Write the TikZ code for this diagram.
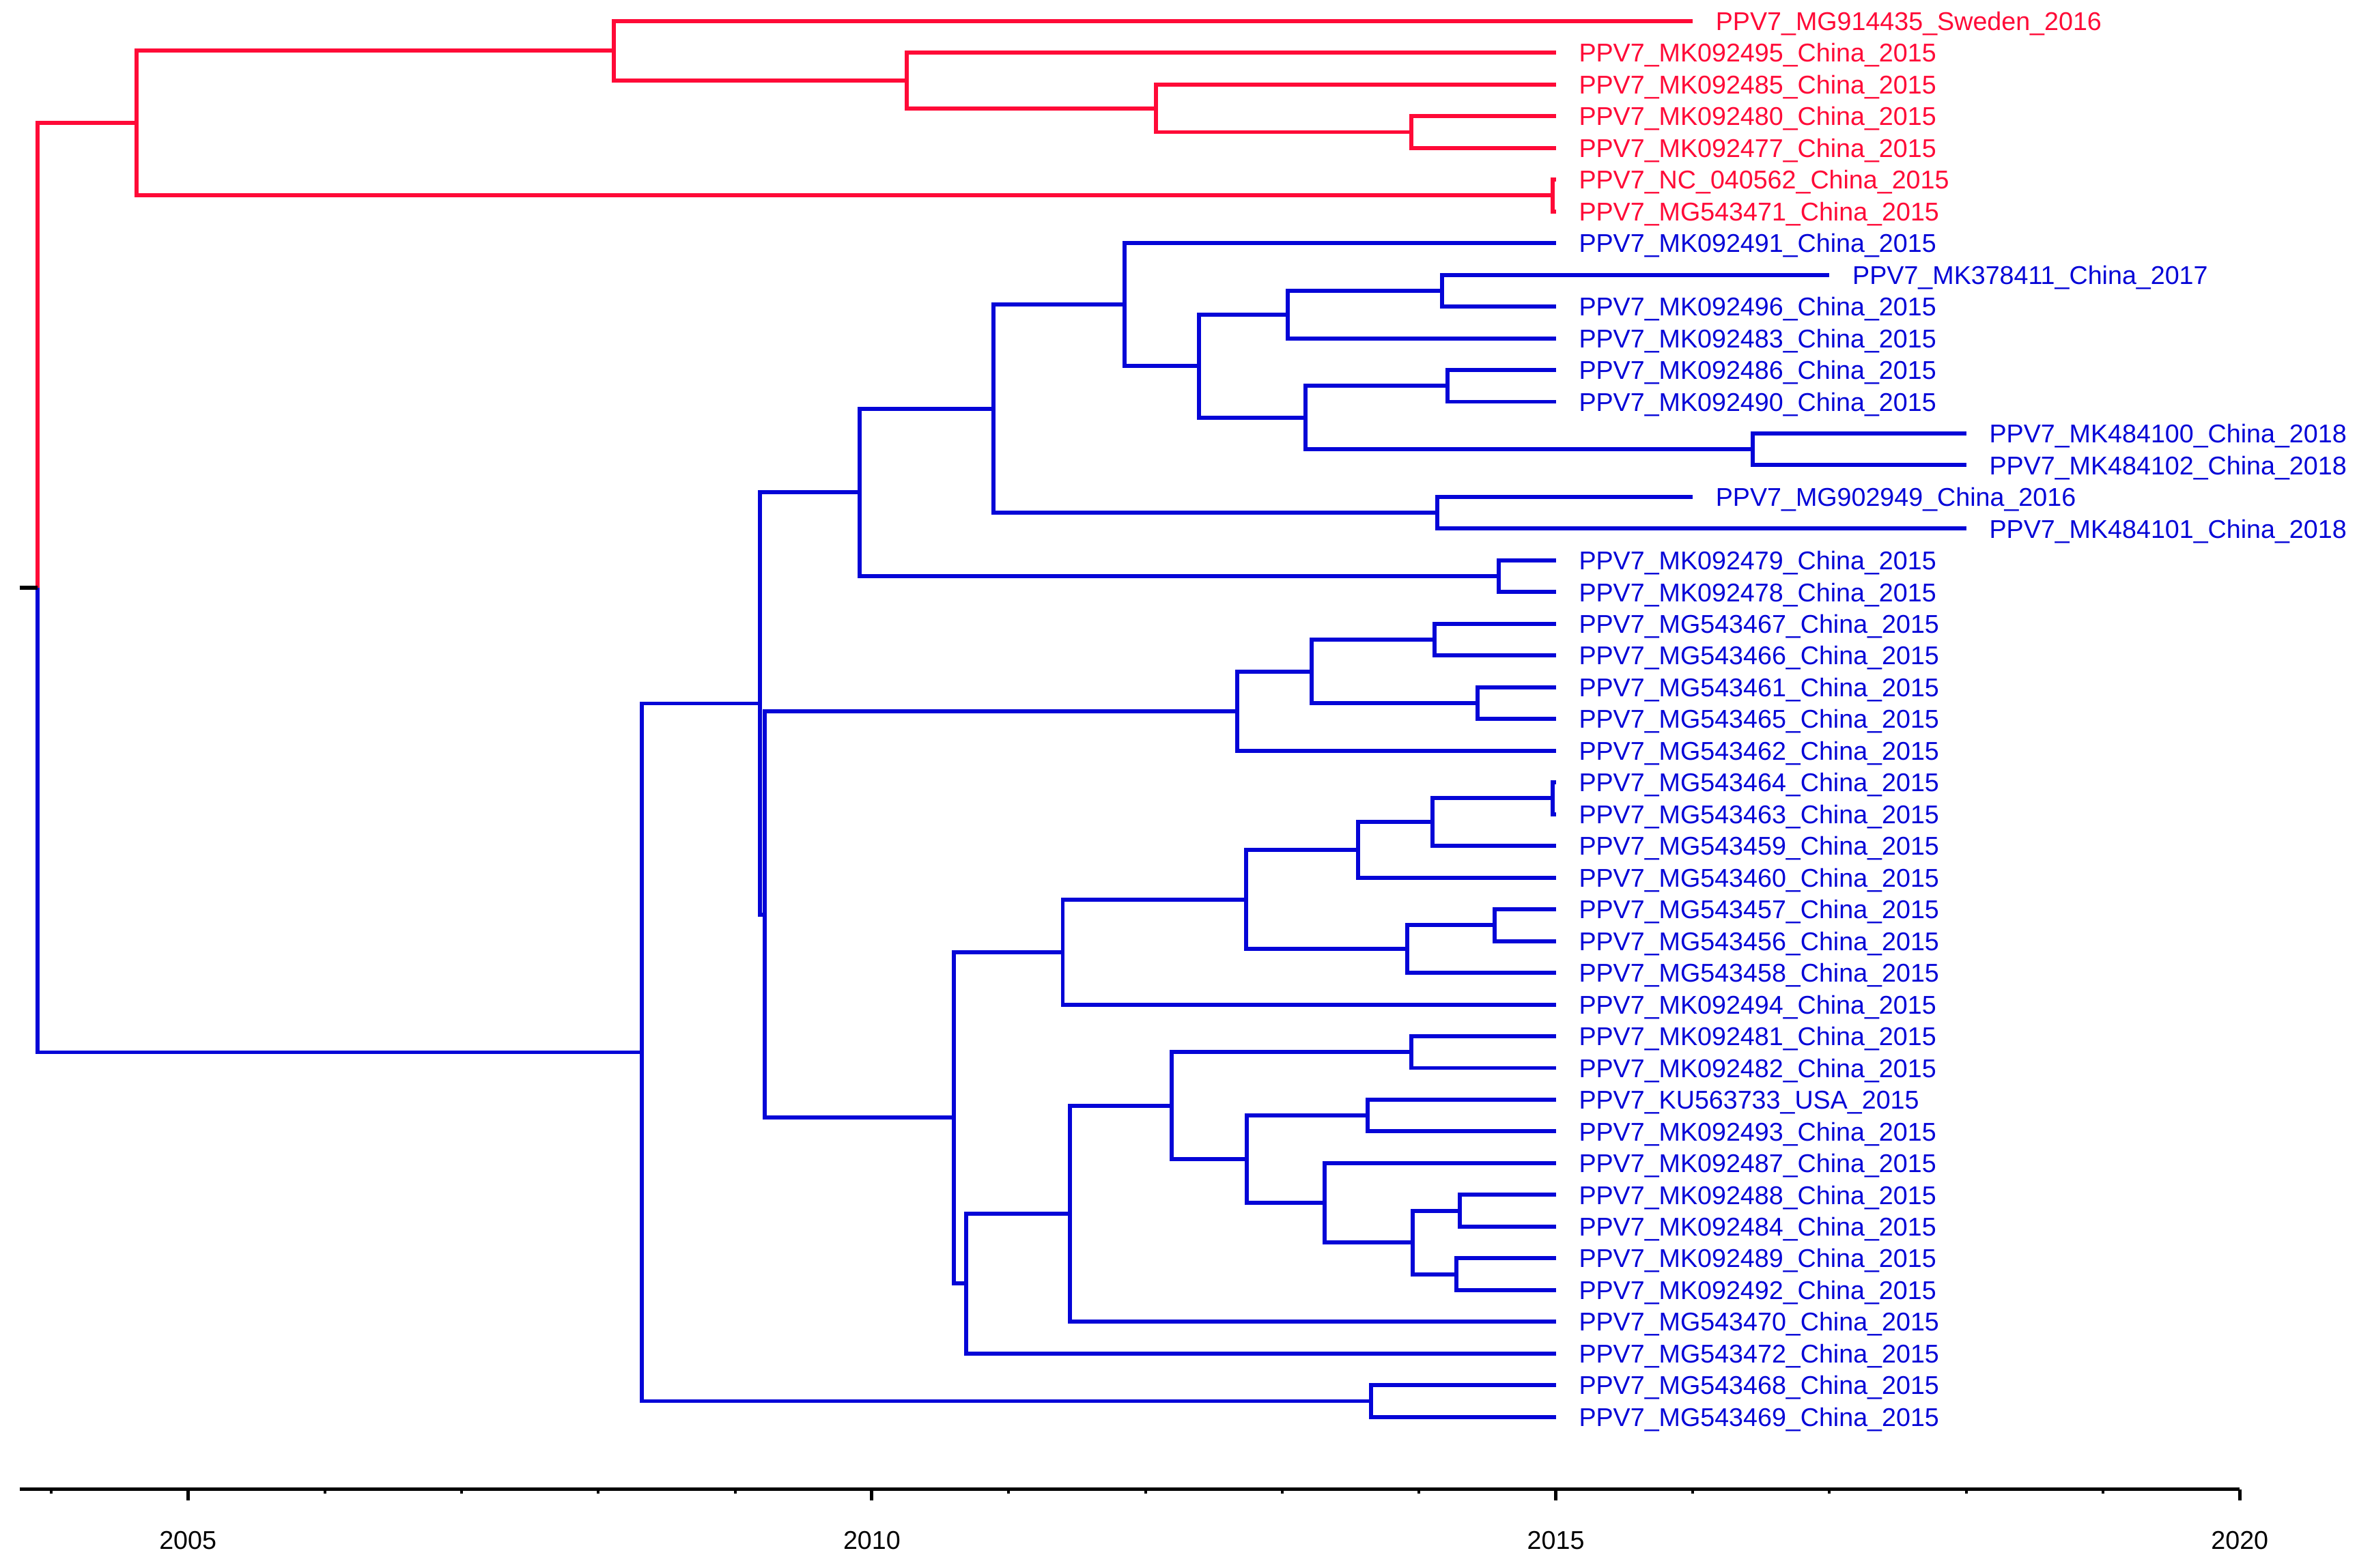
\documentclass[tikz,border=0pt]{standalone}
\usepackage{fontspec}
\setmainfont{Liberation Sans}
\definecolor{tred}{RGB}{255,10,55}
\definecolor{tblue}{RGB}{5,5,215}
\newcommand\mkleaf[4]{%
  \coordinate (l#1) at (#2,{14+21.11*#1});
  \node[lab,text=#3] (t#1) at ({#2+15},{20.2+21.11*#1}) {#4};
}
\begin{document}
\begin{tikzpicture}[x={(0.5pt,0)}, y={(0,-0.5pt)},
  br/.style={line width=1.35pt},
  rb/.style={br, draw=tred},
  bb/.style={br, draw=tblue},
  lab/.style={font=\fontsize{8.55}{10}\selectfont, inner sep=0pt, anchor=base west},
  axlab/.style={font=\fontsize{8.55}{10}\selectfont, inner sep=0pt, anchor=base, text=black},
  axisline/.style={line width=1.1pt, draw=black},
]
\useasboundingbox (0,0) rectangle (1568,1043);

% ---- leaves ----
\mkleaf{0}{1126}{tred}{PPV7\_MG914435\_Sweden\_2016}
\mkleaf{1}{1035}{tred}{PPV7\_MK092495\_China\_2015}
\mkleaf{2}{1035}{tred}{PPV7\_MK092485\_China\_2015}
\mkleaf{3}{1035}{tred}{PPV7\_MK092480\_China\_2015}
\mkleaf{4}{1035}{tred}{PPV7\_MK092477\_China\_2015}
\mkleaf{5}{1035}{tred}{PPV7\_NC\_040562\_China\_2015}
\mkleaf{6}{1035}{tred}{PPV7\_MG543471\_China\_2015}
\mkleaf{7}{1035}{tblue}{PPV7\_MK092491\_China\_2015}
\mkleaf{8}{1217}{tblue}{PPV7\_MK378411\_China\_2017}
\mkleaf{9}{1035}{tblue}{PPV7\_MK092496\_China\_2015}
\mkleaf{10}{1035}{tblue}{PPV7\_MK092483\_China\_2015}
\mkleaf{11}{1035}{tblue}{PPV7\_MK092486\_China\_2015}
\mkleaf{12}{1035}{tblue}{PPV7\_MK092490\_China\_2015}
\mkleaf{13}{1308}{tblue}{PPV7\_MK484100\_China\_2018}
\mkleaf{14}{1308}{tblue}{PPV7\_MK484102\_China\_2018}
\mkleaf{15}{1126}{tblue}{PPV7\_MG902949\_China\_2016}
\mkleaf{16}{1308}{tblue}{PPV7\_MK484101\_China\_2018}
\mkleaf{17}{1035}{tblue}{PPV7\_MK092479\_China\_2015}
\mkleaf{18}{1035}{tblue}{PPV7\_MK092478\_China\_2015}
\mkleaf{19}{1035}{tblue}{PPV7\_MG543467\_China\_2015}
\mkleaf{20}{1035}{tblue}{PPV7\_MG543466\_China\_2015}
\mkleaf{21}{1035}{tblue}{PPV7\_MG543461\_China\_2015}
\mkleaf{22}{1035}{tblue}{PPV7\_MG543465\_China\_2015}
\mkleaf{23}{1035}{tblue}{PPV7\_MG543462\_China\_2015}
\mkleaf{24}{1035}{tblue}{PPV7\_MG543464\_China\_2015}
\mkleaf{25}{1035}{tblue}{PPV7\_MG543463\_China\_2015}
\mkleaf{26}{1035}{tblue}{PPV7\_MG543459\_China\_2015}
\mkleaf{27}{1035}{tblue}{PPV7\_MG543460\_China\_2015}
\mkleaf{28}{1035}{tblue}{PPV7\_MG543457\_China\_2015}
\mkleaf{29}{1035}{tblue}{PPV7\_MG543456\_China\_2015}
\mkleaf{30}{1035}{tblue}{PPV7\_MG543458\_China\_2015}
\mkleaf{31}{1035}{tblue}{PPV7\_MK092494\_China\_2015}
\mkleaf{32}{1035}{tblue}{PPV7\_MK092481\_China\_2015}
\mkleaf{33}{1035}{tblue}{PPV7\_MK092482\_China\_2015}
\mkleaf{34}{1035}{tblue}{PPV7\_KU563733\_USA\_2015}
\mkleaf{35}{1035}{tblue}{PPV7\_MK092493\_China\_2015}
\mkleaf{36}{1035}{tblue}{PPV7\_MK092487\_China\_2015}
\mkleaf{37}{1035}{tblue}{PPV7\_MK092488\_China\_2015}
\mkleaf{38}{1035}{tblue}{PPV7\_MK092484\_China\_2015}
\mkleaf{39}{1035}{tblue}{PPV7\_MK092489\_China\_2015}
\mkleaf{40}{1035}{tblue}{PPV7\_MK092492\_China\_2015}
\mkleaf{41}{1035}{tblue}{PPV7\_MG543470\_China\_2015}
\mkleaf{42}{1035}{tblue}{PPV7\_MG543472\_China\_2015}
\mkleaf{43}{1035}{tblue}{PPV7\_MG543468\_China\_2015}
\mkleaf{44}{1035}{tblue}{PPV7\_MG543469\_China\_2015}

% ---- internal nodes ----
\coordinate (root) at (25,391.06);
\coordinate (rtick) at (13,391.06);
% red clade
\coordinate (r0) at (91,81.95);
\coordinate (r1) at (408.5,33.79);
\coordinate (r2) at (603,53.58);
\coordinate (r3) at (769,72.05);
\coordinate (r4) at (939,87.885);
\coordinate (r5) at (1033,130.105);
% blue clade
\coordinate (n427) at (427,700.18);
\coordinate (n505) at (505.5,468.07);
\coordinate (n912) at (912,932.285);
\coordinate (n572) at (572,327.68);
\coordinate (n661) at (661,271.94);
\coordinate (n748) at (748.3,202.67);
\coordinate (n797) at (797.5,243.57);
\coordinate (n856) at (856.5,209.27);
\coordinate (n959) at (959.5,193.435);
\coordinate (n869) at (868.5,277.875);
\coordinate (n963) at (963,256.765);
\coordinate (n1166) at (1166,298.985);
\coordinate (n956) at (956,341.205);
\coordinate (n997) at (997,383.425);
\coordinate (n509) at (508.8,608.46);
\coordinate (n822) at (823,473.14);
\coordinate (n873) at (872.5,446.755);
\coordinate (n954) at (954.5,425.645);
\coordinate (n983) at (983,467.865);
\coordinate (n634) at (634.5,743.78);
\coordinate (n707) at (707,633.45);
\coordinate (n829) at (829,598.485);
\coordinate (n904) at (903.5,565.50);
\coordinate (n953) at (953,547.03);
\coordinate (n1033) at (1033,531.195);
\coordinate (n935) at (936,631.47);
\coordinate (n994) at (994.2,615.635);
\coordinate (n643) at (642.8,854.11);
\coordinate (n711) at (711.8,807.60);
\coordinate (n779) at (779.6,735.70);
\coordinate (n939) at (938.8,700.075);
\coordinate (n829b) at (829.2,771.32);
\coordinate (n910) at (910,742.295);
\coordinate (n880) at (881,800.35);
\coordinate (n939b) at (940,826.735);
\coordinate (n971) at (971.2,805.625);
\coordinate (n968) at (969,847.845);

% ---- red branches ----
\draw[rb] (root) |- (r0);
\draw[rb] (r0) |- (r1);  \draw[rb] (r0) |- (r5);
\draw[rb] (r1) |- (l0);  \draw[rb] (r1) |- (r2);
\draw[rb] (r2) |- (l1);  \draw[rb] (r2) |- (r3);
\draw[rb] (r3) |- (l2);  \draw[rb] (r3) |- (r4);
\draw[rb] (r4) |- (l3);  \draw[rb] (r4) |- (l4);
\draw[rb] (r5) |- (l5);  \draw[rb] (r5) |- (l6);

% ---- blue branches ----
\draw[bb] (root) |- (n427);
\draw[bb] (n427) |- (n505);  \draw[bb] (n427) |- (n912);
\draw[bb] (n912) |- (l43);   \draw[bb] (n912) |- (l44);
\draw[bb] (n505) |- (n572);  \draw[bb] (n505) |- (n509);
\draw[bb] (n572) |- (n661);  \draw[bb] (n572) |- (n997);
\draw[bb] (n661) |- (n748);  \draw[bb] (n661) |- (n956);
\draw[bb] (n748) |- (l7);    \draw[bb] (n748) |- (n797);
\draw[bb] (n797) |- (n856);  \draw[bb] (n797) |- (n869);
\draw[bb] (n856) |- (n959);  \draw[bb] (n856) |- (l10);
\draw[bb] (n959) |- (l8);    \draw[bb] (n959) |- (l9);
\draw[bb] (n869) |- (n963);  \draw[bb] (n869) |- (n1166);
\draw[bb] (n963) |- (l11);   \draw[bb] (n963) |- (l12);
\draw[bb] (n1166) |- (l13);  \draw[bb] (n1166) |- (l14);
\draw[bb] (n956) |- (l15);   \draw[bb] (n956) |- (l16);
\draw[bb] (n997) |- (l17);   \draw[bb] (n997) |- (l18);
\draw[bb] (n509) |- (n822);  \draw[bb] (n509) |- (n634);
\draw[bb] (n822) |- (n873);  \draw[bb] (n822) |- (l23);
\draw[bb] (n873) |- (n954);  \draw[bb] (n873) |- (n983);
\draw[bb] (n954) |- (l19);   \draw[bb] (n954) |- (l20);
\draw[bb] (n983) |- (l21);   \draw[bb] (n983) |- (l22);
\draw[bb] (n634) |- (n707);  \draw[bb] (n634) |- (n643);
\draw[bb] (n707) |- (n829);  \draw[bb] (n707) |- (l31);
\draw[bb] (n829) |- (n904);  \draw[bb] (n829) |- (n935);
\draw[bb] (n904) |- (n953);  \draw[bb] (n904) |- (l27);
\draw[bb] (n953) |- (n1033); \draw[bb] (n953) |- (l26);
\draw[bb] (n1033) |- (l24);  \draw[bb] (n1033) |- (l25);
\draw[bb] (n935) |- (n994);  \draw[bb] (n935) |- (l30);
\draw[bb] (n994) |- (l28);   \draw[bb] (n994) |- (l29);
\draw[bb] (n643) |- (n711);  \draw[bb] (n643) |- (l42);
\draw[bb] (n711) |- (n779);  \draw[bb] (n711) |- (l41);
\draw[bb] (n779) |- (n939);  \draw[bb] (n779) |- (n829b);
\draw[bb] (n939) |- (l32);   \draw[bb] (n939) |- (l33);
\draw[bb] (n829b) |- (n910); \draw[bb] (n829b) |- (n880);
\draw[bb] (n910) |- (l34);   \draw[bb] (n910) |- (l35);
\draw[bb] (n880) |- (l36);   \draw[bb] (n880) |- (n939b);
\draw[bb] (n939b) |- (n971); \draw[bb] (n939b) |- (n968);
\draw[bb] (n971) |- (l37);   \draw[bb] (n971) |- (l38);
\draw[bb] (n968) |- (l39);   \draw[bb] (n968) |- (l40);

% root tick
\draw[line width=1.3pt, black] (rtick) -- (root);

% ---- time axis ----
\coordinate (axL) at (13,991);
\coordinate (axR) at (1490,991);
\draw[axisline] (axL) -- (axR);
\foreach \yr in {2004,2006,2007,2008,2009,2011,2012,2013,2014,2016,2017,2018,2019}{
  \draw[line width=0.9pt] ({125+91*(\yr-2005)},991) -- ++(0,2.8);
}
\foreach \yr in {2005,2010,2015,2020}{
  \coordinate (tk\yr) at ({125+91*(\yr-2005)},991);
  \draw[line width=1.1pt] (tk\yr) -- ++(0,7.5);
  \node[axlab] (ylab\yr) at ({125+91*(\yr-2005)},1031) {\yr};
}
\end{tikzpicture}
\end{document}
